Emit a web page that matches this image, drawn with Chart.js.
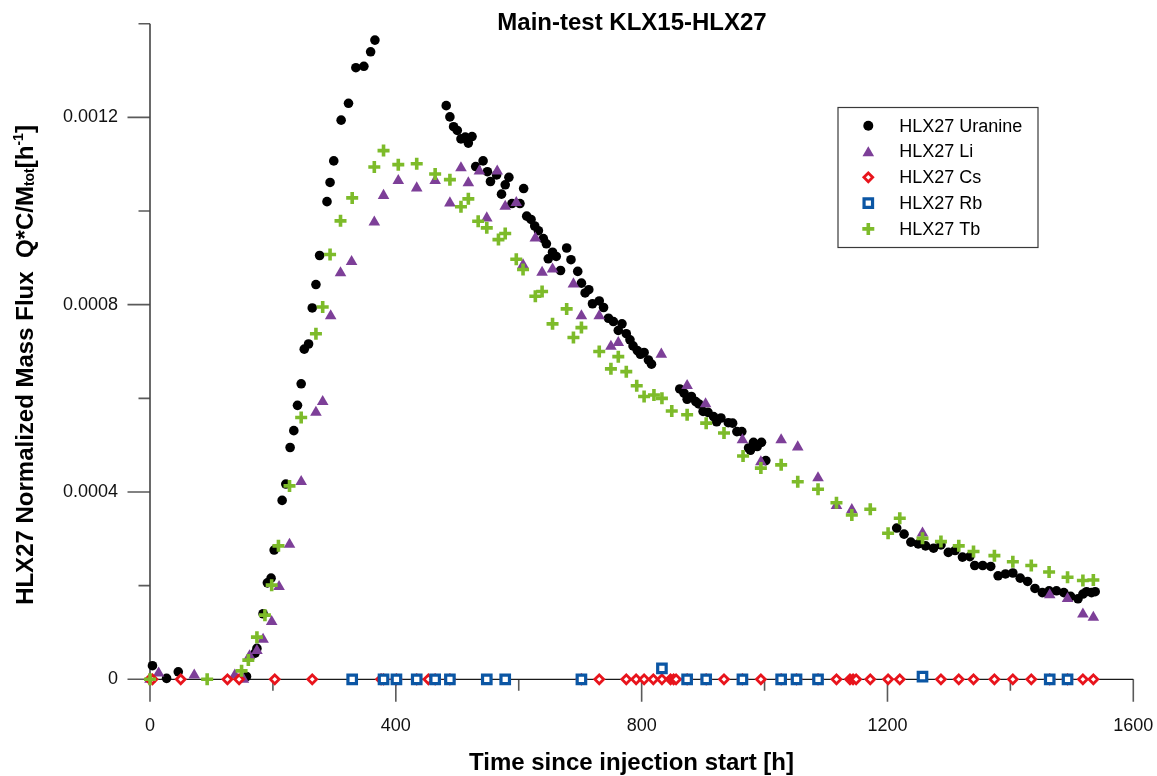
<!DOCTYPE html>
<html>
<head>
<meta charset="utf-8">
<script src="https://cdn.jsdelivr.net/npm/chart.js@4.4.1/dist/chart.umd.min.js"></script>
<style>
  html, body { margin: 0; padding: 0; background: #fff; }
  #wrap { width: 1157px; height: 776px; position: relative; }
</style>
</head>
<body>
<div id="wrap"><canvas id="c" width="1157" height="776"></canvas></div>
<script>
// ---------------- DATA ----------------
const chartTitle = 'Main-test KLX15-HLX27';
const xAxisTitle = 'Time since injection start [h]';
const yAxisTitleMain = 'HLX27 Normalized Mass Flux  Q*C/M';
const yAxisTitleSub = 'tot';
const yAxisTitleUnitA = '[h';
const yAxisTitleSup = '-1';
const yAxisTitleUnitB = ']';

const seriesNames = ['HLX27 Uranine', 'HLX27 Li', 'HLX27 Cs', 'HLX27 Rb', 'HLX27 Tb'];

const xTickValues = [0, 400, 800, 1200, 1600];
const xTickLabels = ['0', '400', '800', '1200', '1600'];
const yTickValues = [0, 0.0004, 0.0008, 0.0012];
const yTickLabels = ['0', '0.0004', '0.0008', '0.0012'];

const uranineHours = [4,27,46,157,171,174,184,191,197,202,215,221,228,234,240,246,251,258,264,270,276,288,293,299,311,323,335,348,359,366,
  482,488,494,500,506,513,518,524,530,542,549,554,564,572,578,584,589,602,608,613,620,626,632,640,645,648,655,661,668,678,685,696,702,708,714,720,731,738,746,754,762,768,775,781,786,793,798,804,811,816,
  862,869,874,881,888,893,900,908,917,922,929,941,948,955,963,974,977,982,988,995,1002,
  1215,1227,1238,1250,1262,1275,1287,1299,1310,1322,1334,1342,1355,1368,1380,1392,1404,1416,1428,1440,1452,1463,1475,1487,1498,1510,1518,1524,1532,1538];
const uranineFlux = [0.000029,0.000002,0.000016,0.000006,0.000056,0.000066,0.000140,0.000206,0.000216,0.000276,0.000382,0.000417,0.000495,0.000531,0.000585,0.000631,0.000705,0.000716,0.000793,0.000843,0.000905,0.001020,0.001061,0.001107,0.001194,0.001230,0.001306,0.001309,0.001340,0.001365,
  0.001225,0.001201,0.001180,0.001172,0.001154,0.001158,0.001145,0.001159,0.001095,0.001107,0.001084,0.001063,0.001077,0.001036,0.001056,0.001072,0.001016,0.001016,0.001048,0.000989,0.000982,0.000968,0.000958,0.000941,0.000930,0.000898,0.000912,0.000903,0.000873,0.000921,0.000896,0.000871,0.000846,0.000825,0.000832,0.000802,0.000808,0.000794,0.000771,0.000764,0.000745,0.000759,0.000738,0.000725,0.000712,0.000702,0.000694,0.000698,0.000682,0.000673,
  0.000620,0.000611,0.000598,0.000604,0.000593,0.000588,0.000572,0.000570,0.000561,0.000550,0.000558,0.000548,0.000547,0.000529,0.000529,0.000494,0.000489,0.000506,0.000497,0.000506,0.000467,
  0.000323,0.000310,0.000293,0.000289,0.000285,0.000280,0.000287,0.000271,0.000275,0.000261,0.000262,0.000243,0.000243,0.000241,0.000221,0.000225,0.000227,0.000216,0.000209,0.000194,0.000185,0.000189,0.000189,0.000185,0.000177,0.000172,0.000182,0.000187,0.000185,0.000187];

const liHours = [0,14,72,138,152,162,174,184,198,210,227,246,270,281,294,310,328,365,380,404,434,464,488,506,518,536,548,565,578,596,607,627,638,655,689,702,731,750,762,832,874,904,964,994,1027,1054,1087,1117,1142,1257,1464,1493,1518,1535];
const liFlux = [0,0.000013,0.000009,0.000009,0,0.000050,0.000061,0.000085,0.000123,0.000198,0.000288,0.000422,0.000570,0.000593,0.000776,0.000868,0.000892,0.000976,0.001033,0.001065,0.001049,0.001065,0.001017,0.001092,0.001060,0.001085,0.000985,0.001085,0.001010,0.001018,0.000885,0.000942,0.000869,0.000876,0.000844,0.000776,0.000776,0.000711,0.000719,0.000694,0.000627,0.000588,0.000511,0.000464,0.000511,0.000496,0.000430,0.000371,0.000362,0.000312,0.000180,0.000172,0.000139,0.000132];

const csHours = [0,4,50,126,145,203,264,376,380,401,434,453,464,488,702,731,775,791,804,819,833,847,852,856,874,905,934,964,994,1027,1052,1087,1117,1139,1144,1149,1172,1201,1220,1287,1316,1340,1374,1404,1434,1464,1493,1518,1535];
const csFlux = [0,0,0,0,0,0,0,0,0,0,0,0,0,0,0,0,0,0,0,0,0,0,0,0,0,0,0,0,0,0,0,0,0,0,0,0,0,0,0,0,0,0,0,0,0,0,0,0,0];

const rbHours = [329,380,401,434,464,488,548,578,702,833,874,905,964,1027,1052,1087,1257,1464,1493];
const rbFlux = [0,0,0,0,0,0,0,0,0,0.0000235,0,0,0,0,0,0,0.0000056,0,0];

const tbHours = [0,93,149,160,174,187,198,209,227,246,270,281,293,310,329,365,380,404,434,464,488,506,518,534,548,567,578,596,607,627,638,655,678,689,702,731,750,762,775,792,804,820,833,849,874,905,934,965,994,1027,1054,1087,1117,1142,1172,1201,1220,1257,1287,1316,1340,1374,1404,1434,1463,1493,1518,1535];
const tbFlux = [0,0,0.000018,0.000041,0.000090,0.000137,0.000201,0.000285,0.000413,0.000559,0.000738,0.000795,0.000907,0.000979,0.001028,0.001094,0.001129,0.001099,0.001101,0.001079,0.001067,0.001009,0.001026,0.000978,0.000964,0.000939,0.000952,0.000897,0.000875,0.000818,0.000828,0.000759,0.000791,0.000730,0.000751,0.000700,0.000663,0.000689,0.000657,0.000627,0.000604,0.000607,0.000600,0.000573,0.000565,0.000547,0.000526,0.000477,0.000451,0.000458,0.000422,0.000406,0.000377,0.000351,0.000363,0.000312,0.000344,0.000301,0.000294,0.000285,0.000273,0.000264,0.000251,0.000243,0.000229,0.000218,0.000211,0.000212];

// ---------------- STYLE ----------------
const FONT = '"Liberation Sans", Arial, Helvetica, sans-serif';
const pairs = (xs, ys) => xs.map((x, i) => ({ x: x, y: ys[i] }));

const styles = [
  { pointStyle: 'circle',   radius: 4.8, bg: '#000000', border: '#000000', bw: 0 },
  { pointStyle: 'triangle', radius: 6.7, bg: '#7d3f98', border: '#7d3f98', bw: 0 },
  { pointStyle: 'rectRot',  radius: 4.4, bg: '#ffffff', border: '#e8141c', bw: 2.8 },
  { pointStyle: 'rect',     radius: 6.0, bg: '#ffffff', border: '#0b56a4', bw: 3.2 },
  { pointStyle: 'cross',    radius: 6.0, bg: '#7dbb2a', border: '#7dbb2a', bw: 3.6 }
];
const seriesData = [
  pairs(uranineHours, uranineFlux),
  pairs(liHours, liFlux),
  pairs(csHours, csFlux),
  pairs(rbHours, rbFlux),
  pairs(tbHours, tbFlux)
];
const drawOrder = [4, 3, 2, 1, 0]; // lower = on top

const datasets = seriesNames.map((name, i) => ({
  label: name,
  data: seriesData[i],
  showLine: false,
  pointStyle: styles[i].pointStyle,
  pointRadius: styles[i].radius,
  pointHoverRadius: styles[i].radius,
  pointBackgroundColor: styles[i].bg,
  pointBorderColor: styles[i].border,
  pointBorderWidth: styles[i].bw,
  backgroundColor: styles[i].bg,
  borderColor: styles[i].border,
  clip: false,
  order: drawOrder[i]
}));

function isLabelled(values, v, eps) {
  return values.findIndex(t => Math.abs(t - v) < eps);
}

// axes lines and tick marks
const axesPlugin = {
  id: 'axesPlugin',
  beforeDatasetsDraw(chart) {
    const { ctx, chartArea: a, scales } = chart;
    const xs = scales.x, ys = scales.y;
    const y0 = ys.getPixelForValue(0);
    const x0 = xs.getPixelForValue(0);
    ctx.save();
    ctx.lineCap = 'butt';
    ctx.strokeStyle = '#5a5a5a';
    ctx.lineWidth = 1.6;
    ctx.beginPath();
    xs.ticks.forEach(t => {
      const px = xs.getPixelForValue(t.value);
      const major = isLabelled(xTickValues, t.value, 1e-6) >= 0;
      ctx.moveTo(px, y0);
      ctx.lineTo(px, y0 + (major ? 22.5 : 11.5));
    });
    ys.ticks.forEach(t => {
      const py = ys.getPixelForValue(t.value);
      const major = isLabelled(yTickValues, t.value, 1e-9) >= 0;
      ctx.moveTo(x0, py);
      ctx.lineTo(x0 - (major ? 22.5 : 11.5), py);
    });
    ctx.stroke();
    ctx.strokeStyle = '#444444';
    ctx.lineWidth = 1.6;
    ctx.beginPath();
    ctx.moveTo(x0, a.top);
    ctx.lineTo(x0, a.bottom);
    ctx.stroke();
    ctx.strokeStyle = '#1a1a1a';
    ctx.lineWidth = 1.2;
    ctx.beginPath();
    ctx.moveTo(a.left, y0);
    ctx.lineTo(a.right, y0);
    ctx.stroke();
    ctx.restore();
  }
};

function drawMarker(ctx, st, x, y) {
  ctx.save();
  ctx.fillStyle = st.bg;
  ctx.strokeStyle = st.border;
  ctx.lineWidth = st.bw;
  const r = st.radius;
  ctx.beginPath();
  if (st.pointStyle === 'circle') {
    ctx.arc(x, y, r, 0, Math.PI * 2);
    ctx.fill();
  } else if (st.pointStyle === 'triangle') {
    ctx.moveTo(x, y - r);
    ctx.lineTo(x + Math.sin(2 * Math.PI / 3) * r, y + r / 2);
    ctx.lineTo(x - Math.sin(2 * Math.PI / 3) * r, y + r / 2);
    ctx.closePath();
    ctx.fill();
  } else if (st.pointStyle === 'rectRot') {
    ctx.moveTo(x - r, y); ctx.lineTo(x, y - r); ctx.lineTo(x + r, y); ctx.lineTo(x, y + r);
    ctx.closePath();
    ctx.fill(); ctx.stroke();
  } else if (st.pointStyle === 'rect') {
    const s = Math.SQRT1_2 * r;
    ctx.rect(x - s, y - s, 2 * s, 2 * s);
    ctx.fill(); ctx.stroke();
  } else if (st.pointStyle === 'cross') {
    ctx.moveTo(x - r, y); ctx.lineTo(x + r, y);
    ctx.moveTo(x, y - r); ctx.lineTo(x, y + r);
    ctx.stroke();
  }
  ctx.restore();
}

// titles + legend
const textPlugin = {
  id: 'textPlugin',
  afterDraw(chart) {
    const ctx = chart.ctx;
    ctx.save();
    ctx.fillStyle = '#000';
    ctx.font = 'bold 24px ' + FONT;
    ctx.textAlign = 'center';
    ctx.textBaseline = 'alphabetic';
    ctx.fillText(chartTitle, 632, 29.5);
    ctx.fillText(xAxisTitle, 631.5, 770);

    ctx.save();
    ctx.translate(33, 365);
    ctx.rotate(-Math.PI / 2);
    ctx.textAlign = 'left';
    const big = 'bold 24px ' + FONT, small = 'bold 14px ' + FONT;
    const parts = [
      { t: yAxisTitleMain, f: big, dy: 0 },
      { t: yAxisTitleSub, f: small, dy: 1 },
      { t: yAxisTitleUnitA, f: big, dy: 0 },
      { t: yAxisTitleSup, f: small, dy: -10 },
      { t: yAxisTitleUnitB, f: big, dy: 0 }
    ];
    let total = 0;
    parts.forEach(p => { ctx.font = p.f; p.w = ctx.measureText(p.t).width; total += p.w; });
    let cx = -total / 2;
    parts.forEach(p => { ctx.font = p.f; ctx.fillText(p.t, cx, p.dy); cx += p.w; });
    ctx.restore();

    ctx.strokeStyle = '#3a3a3a';
    ctx.lineWidth = 1.2;
    ctx.strokeRect(838, 107.5, 200, 140);
    ctx.font = '18px ' + FONT;
    ctx.textAlign = 'left';
    ctx.textBaseline = 'middle';
    ctx.fillStyle = '#000';
    seriesNames.forEach((name, i) => {
      const yy = 125.7 + i * 25.8;
      const st = Object.assign({}, styles[i]);
      if (st.pointStyle === 'circle') st.radius = 5.0;
      drawMarker(ctx, st, 868.3, st.pointStyle === 'triangle' ? yy + 1.5 : yy);
      ctx.fillStyle = '#000';
      ctx.fillText(name, 899.3, yy + 1);
    });
    ctx.restore();
  }
};

new Chart(document.getElementById('c'), {
  type: 'scatter',
  data: { datasets: datasets },
  options: {
    responsive: false,
    animation: false,
    devicePixelRatio: 1,
    layout: { padding: { left: 0, right: 23.7, top: 23.7, bottom: 0 } },
    plugins: {
      legend: { display: false },
      title: { display: false },
      tooltip: { enabled: false }
    },
    scales: {
      x: {
        type: 'linear',
        position: 'bottom',
        min: 0, max: 1600,
        grid: { display: false, drawTicks: false },
        border: { display: false },
        ticks: {
          stepSize: 200,
          padding: 36,
          maxRotation: 0,
          autoSkip: false,
          color: '#111',
          font: { family: FONT, size: 18 },
          callback: (v) => { const i = isLabelled(xTickValues, v, 1e-6); return i >= 0 ? xTickLabels[i] : ''; }
        },
        afterFit: (s) => { s.height = 96.7; s.paddingLeft = 0; s.paddingRight = 0; s.paddingTop = 0; s.paddingBottom = 0; }
      },
      y: {
        type: 'linear',
        position: 'left',
        min: 0, max: 0.0014,
        grid: { display: false, drawTicks: false },
        border: { display: false },
        ticks: {
          stepSize: 0.0002,
          padding: 32,
          autoSkip: false,
          color: '#111',
          font: { family: FONT, size: 18 },
          callback: (v) => { const i = isLabelled(yTickValues, v, 1e-9); return i >= 0 ? yTickLabels[i] : ''; }
        },
        afterFit: (s) => { s.width = 150; s.paddingLeft = 0; s.paddingRight = 0; s.paddingTop = 0; s.paddingBottom = 0; }
      }
    }
  },
  plugins: [axesPlugin, textPlugin]
});
</script>
</body>
</html>
